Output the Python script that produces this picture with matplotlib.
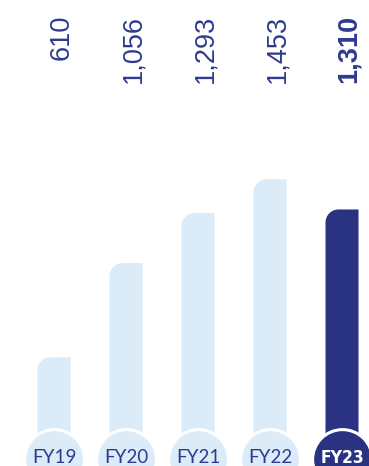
import matplotlib.pyplot as plt
from matplotlib.path import Path
from matplotlib.patches import PathPatch

# data
years = ['FY19', 'FY20', 'FY21', 'FY22', 'FY23']
values = [610, 1056, 1293, 1453, 1310]
value_labels = ['610', '1,056', '1,293', '1,453', '1,310']

light = '#DBEBF8'
dark = '#2A3382'
text_col = '#2E3B8E'

W, H, DPI = 369, 466, 100
fig = plt.figure(figsize=(W / DPI, H / DPI), dpi=DPI)
ax = fig.add_axes([0, 0, 1, 1])
ax.set_xlim(-0.75, 4.375)
ax.set_ylim(95, 2302)
ax.axis('off')

# pixels per data unit, used for the rounded corner
px_x = W / (4.375 + 0.75)
px_y = H / (2302 - 95)

bar_w = 33 / px_x
r_px = 13
rx, ry = r_px / px_x, r_px / px_y
k = 0.5523  # bezier circle constant


def top_left_rounded_bar(xc, top, bottom=0):
    x0, x1 = xc - bar_w / 2, xc + bar_w / 2
    verts = [
        (x0, bottom),
        (x1, bottom),
        (x1, top),
        (x0 + rx, top),
        (x0 + rx * (1 - k), top),
        (x0, top - ry * (1 - k)),
        (x0, top - ry),
        (x0, bottom),
    ]
    codes = [Path.MOVETO, Path.LINETO, Path.LINETO, Path.LINETO,
             Path.CURVE4, Path.CURVE4, Path.CURVE4, Path.CLOSEPOLY]
    return Path(verts, codes)


for i, (yr, v, lab) in enumerate(zip(years, values, value_labels)):
    last = i == len(years) - 1
    col = dark if last else light
    ax.add_patch(PathPatch(top_left_rounded_bar(i, v), facecolor=col,
                           edgecolor='none', zorder=2))
    # value label, rotated
    ax.text(i + 0.1, 2232, lab, rotation=90, ha='center', va='top',
            fontsize=19.5, family='Liberation Sans',
            fontweight='bold' if last else 'normal', color=text_col)
    # circle at the bottom
    ax.scatter([i], [128], s=1850, color=col, edgecolor='white',
               linewidth=2.2, zorder=3, clip_on=False)
    if last:
        ax.text(i, 109, yr, ha='center', va='baseline', fontsize=12.5,
                family='DejaVu Sans', fontstretch='condensed',
                fontweight='bold', color='white', zorder=4)
    else:
        ax.text(i, 109, yr, ha='center', va='baseline', fontsize=13.5,
                family='Lato', color=text_col, zorder=4)

fig.savefig('out.png', dpi=DPI)
